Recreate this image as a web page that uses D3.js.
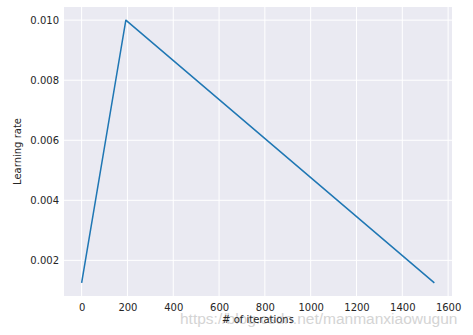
<!DOCTYPE html>
<html>
<head>
<meta charset="utf-8">
<script src="https://cdn.jsdelivr.net/npm/d3@7"></script>
<style>
  html, body { margin: 0; padding: 0; background: #ffffff; }
  svg { display: block; }
</style>
</head>
<body>
<div id="chart"></div>
<script>
// ---- data ----
const iterations = [0, 193, 1540];
const learningRates = [0.00125, 0.0100, 0.00125];
const xTicks = [0, 200, 400, 600, 800, 1000, 1200, 1400, 1600];
const yTicks = [0.002, 0.004, 0.006, 0.008, 0.010];
const xLabel = "# of iterations";
const yLabel = "Learning rate";
const watermark = "https://blog.csdn.net/manmanxiaowugun";

const W = 473, H = 335;
const margin = { left: 64, top: 7, right: 473 - 452, bottom: 335 - 296 };
const iw = W - margin.left - margin.right;
const ih = H - margin.top - margin.bottom;

const svg = d3.select("#chart").append("svg")
  .attr("width", W).attr("height", H);

const xMin = d3.min(iterations), xMax = d3.max(iterations);
const yMin = d3.min(learningRates), yMax = d3.max(learningRates);
const xPad = (xMax - xMin) * 0.05, yPad = (yMax - yMin) * 0.05;

const x = d3.scaleLinear().domain([xMin - xPad, xMax + xPad]).range([0, iw]);
const y = d3.scaleLinear().domain([yMin - yPad, yMax + yPad]).range([ih, 0]);

const g = svg.append("g").attr("transform", `translate(${margin.left},${margin.top})`);

g.append("rect").attr("width", iw).attr("height", ih).attr("fill", "#EAEAF2");

// grid
g.append("g").selectAll("line").data(xTicks).join("line")
  .attr("x1", d => x(d)).attr("x2", d => x(d))
  .attr("y1", 0).attr("y2", ih)
  .attr("stroke", "#ffffff").attr("stroke-width", 1);
g.append("g").selectAll("line").data(yTicks).join("line")
  .attr("y1", d => y(d)).attr("y2", d => y(d))
  .attr("x1", 0).attr("x2", iw)
  .attr("stroke", "#ffffff").attr("stroke-width", 1);

const font = "'DejaVu Sans', sans-serif";

// axes
const xAxis = g.append("g").attr("transform", `translate(0,${ih})`)
  .call(d3.axisBottom(x).tickValues(xTicks).tickSize(0).tickPadding(8).tickFormat(d3.format("d")));
const yAxis = g.append("g")
  .call(d3.axisLeft(y).tickValues(yTicks).tickSize(0).tickPadding(5).tickFormat(d3.format(".3f")));
[xAxis, yAxis].forEach(a => {
  a.select(".domain").remove();
  a.selectAll("text").attr("fill", "#262626").style("font-family", font).style("font-size", "10px");
});

// line
const line = d3.line().x((d, i) => x(iterations[i])).y(d => y(d));
g.append("path").datum(learningRates)
  .attr("d", line)
  .attr("fill", "none")
  .attr("stroke", "#1f77b4")
  .attr("stroke-width", 1.5)
  .attr("stroke-linejoin", "round");

// watermark
svg.append("text")
  .attr("x", 180).attr("y", 324)
  .attr("fill", "#d4d4d4")
  .style("font-family", "'Liberation Sans', Arial, sans-serif")
  .style("font-size", "15.5px")
  .text(watermark);

// labels
svg.append("text")
  .attr("x", margin.left + iw / 2).attr("y", 323)
  .attr("text-anchor", "middle")
  .attr("fill", "#262626")
  .style("font-family", font).style("font-size", "10px")
  .text(xLabel);

svg.append("text")
  .attr("transform", `translate(21,${margin.top + ih / 2}) rotate(-90)`)
  .attr("text-anchor", "middle")
  .attr("fill", "#262626")
  .style("font-family", font).style("font-size", "10px")
  .text(yLabel);
</script>
</body>
</html>
